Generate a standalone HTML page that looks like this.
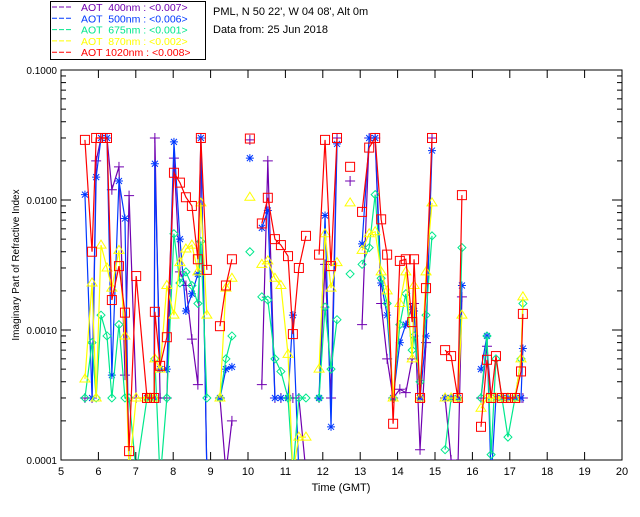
<!DOCTYPE html>
<html><head><meta charset="utf-8"><style>
body{margin:0;background:#fff;}
svg text{font-family:"Liberation Sans",sans-serif;}
</style></head><body>
<svg id="chart" width="640" height="512" xmlns="http://www.w3.org/2000/svg">
<defs><clipPath id="pc"><rect x="61" y="70" width="561" height="390"/></clipPath></defs>
<rect x="0" y="0" width="640" height="512" fill="#fff"/>
<g>
<rect x="50.5" y="1.5" width="155" height="58" fill="#fff" stroke="#000"/>
<g id="legendRows"></g>
</g>
<text x="213" y="15" font-size="11">PML, N 50 22', W 04 08', Alt 0m</text>
<text x="213" y="33" font-size="11">Data from: 25 Jun 2018</text>
<g id="axes"></g>
<g id="series" clip-path="url(#pc)"></g>
<text x="341" y="491" font-size="11" text-anchor="middle">Time (GMT)</text>
<text transform="translate(19,265) rotate(-90)" font-size="10" text-anchor="middle">Imaginary Part of Refractive Index</text>
</svg>
<script>
const times=[5.64,5.83,5.94,6.07,6.23,6.36,6.55,6.71,6.82,7.01,7.30,7.38,7.49,7.51,7.65,7.83,8.02,8.18,8.34,8.50,8.66,8.74,8.90,9.25,9.41,9.57,10.05,10.37,10.53,10.72,10.88,11.07,11.20,11.36,11.55,11.90,12.06,12.22,12.38,12.73,13.05,13.24,13.40,13.56,13.72,13.88,14.06,14.22,14.39,14.44,14.60,14.76,14.92,15.27,15.43,15.61,15.72,16.23,16.39,16.50,16.63,16.79,16.95,17.14,17.30,17.35];
const aot400=[0.0003,0.0003,0.020,0.030,0.030,0.012,0.018,0.00045,0.0108,0.0003,0.0003,0.0003,0.0003,0.030,0.0003,0.0003,0.021,0.0028,0.0022,0.00085,0.00038,0.030,0.00008,0.0003,0.00008,0.0002,0.029,0.00038,0.020,0.0003,0.0003,0.0003,0.0003,0.0003,0.00008,0.0003,0.0032,0.0003,0.030,0.014,0.0011,0.030,0.030,0.0016,0.0006,0.0003,0.00035,0.00033,0.0006,0.0016,0.00012,0.0008,0.030,0.0003,0.0001,0.00008,0.0018,0.0003,0.00075,0.0003,0.0003,0.0003,0.0003,0.0003,0.0003,0.0003];
const aot500=[0.011,0.0003,0.015,0.030,0.030,0.00045,0.014,0.0072,0.00008,null,0.0003,0.0003,0.0003,0.019,0.0005,0.0005,0.028,0.005,0.0014,0.0019,0.0027,0.030,0.00008,0.0003,0.0005,0.00052,0.021,0.0061,0.0083,0.0003,0.0003,0.0003,0.0013,0.00008,null,0.0003,0.0076,0.00018,0.027,null,0.0046,0.030,0.030,0.0023,0.0013,0.0003,0.0008,0.0011,0.0015,0.0014,0.0003,0.0009,0.024,0.0003,0.0003,0.0003,0.0022,0.0005,0.0009,0.00007,0.0003,0.0003,0.0003,0.0003,0.0003,0.00072];
const aot675=[0.0003,0.0008,0.0003,0.0013,0.0009,0.0003,0.0011,0.0003,0.0003,0.00008,0.0003,0.0003,0.0003,0.0006,0.00007,0.0003,0.0055,0.0023,0.0028,0.0022,0.0016,0.0048,0.0003,0.0003,0.0006,0.0009,0.004,0.0018,0.0017,0.0006,0.00048,0.0003,0.00008,0.0003,0.0003,0.0003,0.0015,0.0005,0.0012,0.0027,0.0032,0.0043,0.011,0.0025,0.0016,0.0003,0.0011,0.0019,0.0007,0.0009,0.0004,0.0013,0.0053,0.00012,0.0003,0.0003,0.0043,0.0003,0.0009,0.00011,0.0006,0.0003,0.00015,0.0003,0.0006,0.0016];
const aot870=[0.00042,0.0023,0.0003,0.0045,0.003,0.0021,0.0041,0.0009,0.00008,0.0003,0.0003,0.0003,0.0003,0.0006,0.0005,0.0022,0.0013,0.0033,0.0042,0.0045,0.0028,0.0095,0.0013,0.0003,0.0021,0.0025,0.0105,0.0032,0.0034,0.0025,0.0022,0.00065,0.00008,0.00015,0.00015,0.0005,0.0055,0.0021,0.0033,0.0095,0.0041,0.0055,0.0057,0.0028,0.002,0.0003,0.0016,0.0028,0.0006,0.0022,0.0003,0.0028,0.0095,0.0003,0.0003,0.0003,0.0013,0.00025,0.0003,0.0003,0.0003,0.0003,0.0003,0.0003,0.0006,0.0018];
const aot1020=[0.029,0.0040,0.030,0.030,0.030,0.0017,0.0031,0.00136,0.000117,0.0026,0.0003,0.0003,0.0003,0.00138,0.00053,0.00088,0.0162,0.0136,0.0105,0.009,0.0035,0.030,0.0029,0.00107,0.0022,0.0035,0.0297,0.0066,0.0104,0.005,0.0045,0.0037,0.00093,0.003,0.0053,0.0038,0.029,0.0031,0.030,0.018,0.0081,0.0253,0.030,0.0071,0.0038,0.00019,0.0034,0.0035,0.00115,0.0035,0.0003,0.0021,0.030,0.0007,0.00063,0.0003,0.0109,0.00018,0.00059,0.0003,0.00063,0.0003,0.0003,0.0003,0.00048,0.00133];
const xTicks=[5,6,7,8,9,10,11,12,13,14,15,16,17,18,19,20];
const yTicks=[0.1,0.01,0.001,0.0001];
const yTickLabels=["0.1000","0.0100","0.0010","0.0001"];
const legendLabels=["AOT  400nm : <0.007>","AOT  500nm : <0.006>","AOT  675nm : <0.001>","AOT  870nm : <0.002>","AOT 1020nm : <0.008>"];

const NS="http://www.w3.org/2000/svg";
const L=61,R=622,T=70,B=460;
function xs(t){return L+(t-5)/15*(R-L);}
function ys(v){return T+(-1-Math.log10(v))/3*(B-T);}
function mk(tag,attrs,parent){const e=document.createElementNS(NS,tag);for(const k in attrs)e.setAttribute(k,attrs[k]);parent.appendChild(e);return e;}

const axes=document.getElementById('axes');
const frame=mk('rect',{x:L,y:T,width:R-L,height:B-T,fill:'none',stroke:'#000','stroke-width':1},axes);


xTicks.forEach(t=>{
  const x=xs(t);
  const a=mk('line',{x1:x,y1:B,x2:x,y2:B-8,stroke:'#000'},axes);
  
  
  mk('line',{x1:x,y1:T,x2:x,y2:T+8,stroke:'#000'},axes);
  const lb=mk('text',{x:x,y:B+15,'font-size':11,'text-anchor':'middle'},axes);
  lb.textContent=t;
  
  
});
yTicks.forEach((v,i)=>{
  const y=ys(v);
  const a=mk('line',{x1:L,y1:y,x2:L+10,y2:y,stroke:'#000'},axes);
  
  
  mk('line',{x1:R,y1:y,x2:R-10,y2:y,stroke:'#000'},axes);
  const lb=mk('text',{x:L-4,y:y+4,'font-size':10,'text-anchor':'end'},axes);
  lb.textContent=yTickLabels[i];
  
  
  if(i<3){for(let m=2;m<10;m++){const yy=ys(v/10*m);
    mk('line',{x1:L,y1:yy,x2:L+5,y2:yy,stroke:'#000'},axes);
    mk('line',{x1:R,y1:yy,x2:R-5,y2:yy,stroke:'#000'},axes);}}
});

const seriesDefs=[
 {vals:aot400,color:'#7000b0',m:'plus',name:'aot-400nm'},
 {vals:aot500,color:'#0038ff',m:'star',name:'aot-500nm'},
 {vals:aot675,color:'#00e88c',m:'diamond',name:'aot-675nm'},
 {vals:aot870,color:'#ffff00',m:'tri',name:'aot-870nm'},
 {vals:aot1020,color:'#ff0000',m:'square',name:'aot-1020nm'}];
function marker(g,type,x,y,c){
  const s={stroke:c,fill:'none','stroke-width':1};let p;
  if(type==='plus')p=mk('path',Object.assign({d:`M${x-5},${y}H${x+5}M${x},${y-5}V${y+5}`},s),g);
  else if(type==='star')p=mk('path',Object.assign({d:`M${x-4},${y}H${x+4}M${x},${y-4}V${y+4}M${x-3},${y-3}L${x+3},${y+3}M${x-3},${y+3}L${x+3},${y-3}`,'stroke-width':1.5},s),g);
  else if(type==='diamond')p=mk('path',Object.assign({d:`M${x},${y-4}L${x+4},${y}L${x},${y+4}L${x-4},${y}Z`},s),g);
  else if(type==='tri')p=mk('path',Object.assign({d:`M${x},${y-5}L${x+5},${y+3}L${x-5},${y+3}Z`},s),g);
  else p=mk('rect',Object.assign({x:x-4.5,y:y-4.5,width:9,height:9,'stroke-width':1.3},s),g);
  return p;
}
const sg=document.getElementById('series');
seriesDefs.forEach(sd=>{
  const g=mk('g',{},sg);
  
  
  let d='',prev=null;
  sd.vals.forEach((v,i)=>{
    if(v==null){prev=null;return;}
    const x=xs(times[i]),y=ys(v);
    if(prev!==null && times[i]-times[prev]<0.3) d+=`L${x},${y}`; else d+=`M${x},${y}`;
    prev=i;
  });
  const ln=mk('path',{d:d,fill:'none',stroke:sd.color,'stroke-width':1.2},g);
  
  
  sd.vals.forEach((v,i)=>{
    if(v==null)return;
    const p=marker(g,sd.m,xs(times[i]),ys(v),sd.color);
    
    
  });
});
const lg=document.getElementById('legendRows');
seriesDefs.forEach((sd,i)=>{
  const y=10+i*11.3;
  const l=mk('line',{x1:52,y1:y-3,x2:73,y2:y-3,stroke:sd.color,'stroke-dasharray':'5,2'},lg);
  
  
  const t=mk('text',{x:81,y:y+1,'font-size':10.5,fill:sd.color,'xml:space':'preserve'},lg);
  t.setAttribute('style','white-space:pre');
  t.textContent=legendLabels[i];
  
  
});
</script>
</body></html>
